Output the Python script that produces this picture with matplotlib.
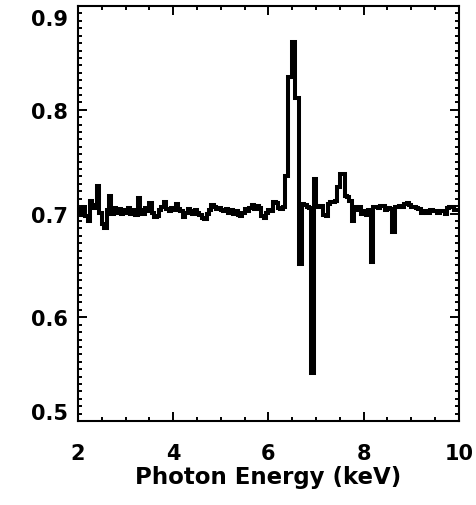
import matplotlib
matplotlib.use("Agg")
import matplotlib.pyplot as plt
from matplotlib.ticker import MultipleLocator, AutoMinorLocator
from matplotlib.transforms import ScaledTranslation
import numpy as np

# spectrum ratio, 0.05 keV bins from 2 to 10 keV
e_min, e_max = 2.0, 10.0
ratio = [
    0.704, 0.699, 0.706, 0.698, 0.693, 0.712, 0.705, 0.708, 0.727, 0.701,
    0.690, 0.686, 0.703, 0.717, 0.700, 0.705, 0.701, 0.704, 0.700, 0.703,
    0.701, 0.705, 0.700, 0.703, 0.699, 0.715, 0.703, 0.700, 0.705, 0.702,
    0.710, 0.701, 0.697, 0.698, 0.703, 0.706, 0.711, 0.704, 0.702, 0.705,
    0.703, 0.709, 0.704, 0.702, 0.697, 0.701, 0.704, 0.702, 0.700, 0.703,
    0.701, 0.699, 0.696, 0.695, 0.700, 0.703, 0.708, 0.706, 0.704, 0.705,
    0.703, 0.702, 0.704, 0.701, 0.703, 0.700, 0.702, 0.699, 0.698, 0.701,
    0.704, 0.702, 0.705, 0.708, 0.704, 0.707, 0.705, 0.698, 0.696, 0.701,
    0.703, 0.702, 0.711, 0.710, 0.705, 0.704, 0.706, 0.736, 0.832, 0.832,
    0.865, 0.811, 0.811, 0.651, 0.709, 0.708, 0.706, 0.705, 0.546, 0.733,
    0.707, 0.706, 0.707, 0.699, 0.698, 0.709, 0.711, 0.711, 0.712, 0.726,
    0.738, 0.738, 0.717, 0.716, 0.712, 0.693, 0.706, 0.703, 0.706, 0.700,
    0.702, 0.699, 0.703, 0.653, 0.706, 0.706, 0.705, 0.707, 0.707, 0.703,
    0.705, 0.704, 0.682, 0.706, 0.706, 0.707, 0.706, 0.709, 0.710, 0.708,
    0.706, 0.706, 0.705, 0.704, 0.701, 0.702, 0.701, 0.701, 0.703, 0.702,
    0.702, 0.701, 0.702, 0.702, 0.700, 0.705, 0.706, 0.706, 0.703, 0.703,
]
x_ticks = [2, 4, 6, 8, 10]
y_ticks = [0.5, 0.6, 0.7, 0.8, 0.9]

edges = np.linspace(e_min, e_max, len(ratio) + 1)

plt.rcParams['font.family'] = ['DejaVu Sans']
plt.rcParams['font.weight'] = 'bold'

fig = plt.figure(figsize=(4.76, 5.06), dpi=100)
ax = fig.add_axes([0.164, 0.166, 0.800, 0.820])

ax.stairs(ratio, edges, baseline=None, color='black', linewidth=2.9)

ax.set_xlim(e_min, e_max)
ax.set_ylim(0.5, 0.9)
ax.set_xticks(x_ticks)
ax.set_xticklabels([str(v) for v in x_ticks])
ax.set_yticks(y_ticks)
ax.set_yticklabels(['%.1f' % v for v in y_ticks])
ax.xaxis.set_minor_locator(MultipleLocator(0.5))
ax.yaxis.set_minor_locator(AutoMinorLocator(14))

ax.tick_params(which='both', direction='in', top=True, right=True, width=1.4, labelsize=15)
ax.tick_params(which='major', length=6.5)
ax.tick_params(which='minor', length=3)
ax.tick_params(axis='x', pad=16)
ax.tick_params(axis='y', pad=7)
for s in ax.spines.values():
    s.set_linewidth(1.5)

ax.set_xlabel('Photon Energy (keV)', fontsize=16.5, fontweight='bold', labelpad=1)

# end labels sit inside the frame, like the original
fig.canvas.draw()
ylabs = ax.get_yticklabels()
ylabs[0].set_transform(ylabs[0].get_transform() + ScaledTranslation(0, 0.10, fig.dpi_scale_trans))
ylabs[-1].set_transform(ylabs[-1].get_transform() + ScaledTranslation(0, -0.11, fig.dpi_scale_trans))

fig.savefig('out.png', dpi=100)
